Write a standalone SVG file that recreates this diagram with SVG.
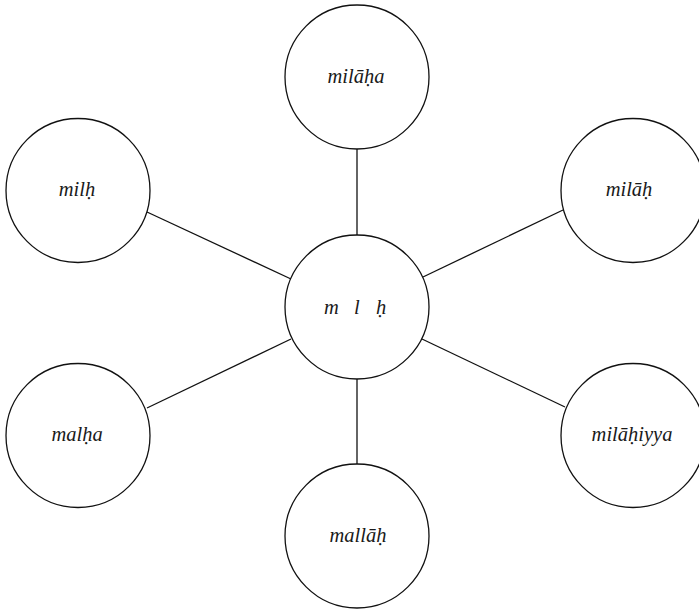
<svg xmlns="http://www.w3.org/2000/svg" width="699" height="610" viewBox="0 0 699 610">
  <style>
    .node circle { fill: #ffffff; stroke: #111111; stroke-width: 1.3; }
    .node text { font-family: "Liberation Serif", "Times New Roman", serif; font-style: italic; font-size: 20.5px; fill: #1a1a1a; text-anchor: middle; }
    #root text { text-anchor: start; }
    #edges line { stroke: #111111; stroke-width: 1.3; }
  </style>
  <rect width="699" height="610" fill="#ffffff"/>

  <!-- connectors from the root to each derived word -->
  <g id="edges">
    <line x1="357" y1="149" x2="357" y2="235"/>
    <line x1="147" y1="212" x2="291" y2="279"/>
    <line x1="563" y1="210" x2="423" y2="277"/>
    <line x1="147" y1="408" x2="291" y2="339"/>
    <line x1="565" y1="407" x2="422" y2="339"/>
    <line x1="357" y1="379" x2="357" y2="464"/>
  </g>

  <!-- root -->
  <g id="root" class="node">
    <circle cx="357" cy="307" r="72"/>
    <text y="314"><tspan x="324">m</tspan><tspan x="354">l</tspan><tspan x="376">ḥ</tspan></text>
  </g>

  <g id="milaha" class="node">
    <circle cx="357" cy="77" r="72"/>
    <text x="356" y="83">milāḥa</text>
  </g>

  <g id="milh" class="node">
    <circle cx="78" cy="190.5" r="72"/>
    <text x="77" y="196">milḥ</text>
  </g>

  <g id="milah" class="node">
    <circle cx="633" cy="190.5" r="72"/>
    <text x="629" y="196">milāḥ</text>
  </g>

  <g id="malha" class="node">
    <circle cx="78" cy="435.5" r="72"/>
    <text x="77" y="441">malḥa</text>
  </g>

  <g id="milahiyya" class="node">
    <circle cx="633" cy="435.5" r="72"/>
    <text x="632" y="441">milāḥiyya</text>
  </g>

  <g id="mallah" class="node">
    <circle cx="357" cy="536" r="72"/>
    <text x="358" y="542">mallāḥ</text>
  </g>
</svg>
